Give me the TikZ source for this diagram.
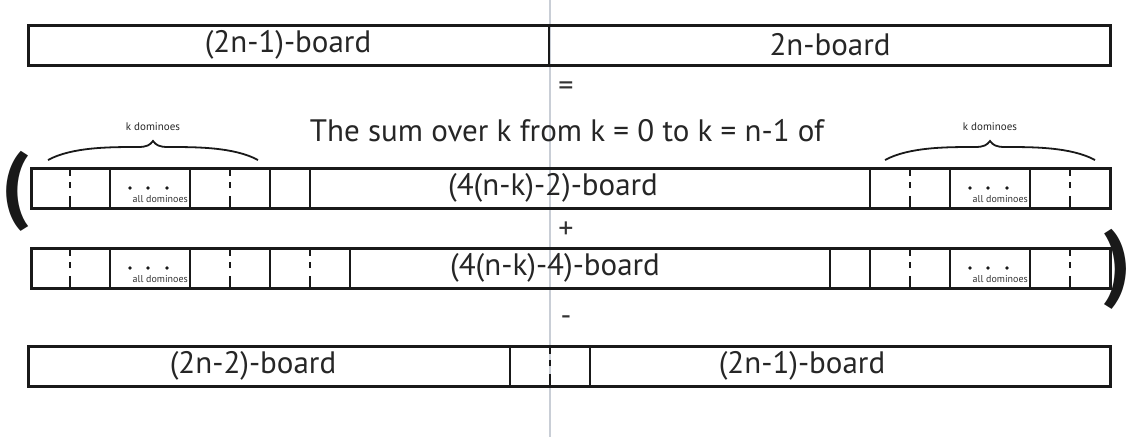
\documentclass[tikz,border=0pt]{standalone}
\usepackage{fontspec}
\setmainfont{PT Sans}
\definecolor{guidegray}{HTML}{C9CED6}
\tikzset{
  boardbox/.style={draw=black!90, line width=2.6pt, inner sep=0pt, anchor=north west},
  cellline/.style={draw=black!90, line width=2.6pt},
  dashmark/.style={draw=black!90, line width=2.6pt, dash pattern=on 9pt off 6pt on 6pt off 8pt on 12pt},
  boardlabel/.style={font=\fontsize{31}{36}\selectfont, text=black!85, inner sep=0pt},
  sumlabel/.style={font=\fontsize{31}{36}\selectfont, text=black!85, inner sep=0pt},
  oplabel/.style={font=\fontsize{30}{34}\selectfont, text=black!80, inner sep=0pt},
  smalllabel/.style={font=\fontsize{11}{13}\selectfont, text=black!85, inner sep=0pt},
  tinylabel/.style={font=\fontsize{10}{12}\selectfont, text=black!80, inner sep=0pt, anchor=base east},
  bracestroke/.style={draw=black!90, line width=1.8pt},
  paren/.style={font=\bfseries\fontsize{86}{96}\selectfont, text=black!90, inner sep=0pt},
  guide/.style={draw=guidegray, line width=2.2pt}
}
\newcommand{\mydash}[2]{\draw[dashmark] (#1,#2) -- (#1,#2+41);}
\newcommand{\mydots}[3]{%
  \fill[black!90] (#1+20,#2+21) circle (1.8);
  \fill[black!90] (#1+38,#2+21) circle (1.8);
  \fill[black!90] (#1+57,#2+21) circle (1.8);
  \node[tinylabel] (#3) at (#1+78,#2+35) {all dominoes};}
\begin{document}
\begin{tikzpicture}[x=1pt,y=-1pt]
\useasboundingbox (0,0) rectangle (1130,442);
\fill[white] (0,0) rectangle (1130,442);
% guide line
\coordinate (gtop) at (550,0);
\coordinate (gbot) at (550,437);
\draw[guide] (gtop) -- (gbot);

% top board
\node[boardbox, minimum width=1082pt, minimum height=40pt] (top) at (27,24) {};
\draw[cellline] (549,24) -- (549,64);
\node[boardlabel] (tl) at (288,45) {(2n-1)-board};
\node[boardlabel] (tr) at (830,45) {2n-board};
\node[oplabel] (eq) at (566,89) {=};

% sum text
\node[sumlabel, anchor=base] (sum) at (567,141) {The sum over k from k = 0 to k = n-1 of};

% braces
\draw[bracestroke] (48,160) .. controls (72,147) and (110,147) .. (138,147)
  .. controls (147,147) and (150,145) .. (153,141)
  .. controls (156,145) and (159,147) .. (168,147)
  .. controls (196,147) and (234,147) .. (258,160);
\node[smalllabel] (kd1) at (153,127) {k dominoes};
\draw[bracestroke] (885,160) .. controls (909,147) and (947,147) .. (975,147)
  .. controls (984,147) and (987,145) .. (990,141)
  .. controls (993,145) and (996,147) .. (1005,147)
  .. controls (1033,147) and (1071,147) .. (1095,160);
\node[smalllabel] (kd2) at (990,127) {k dominoes};

% parentheses
\node[paren] (lp) at (16,191) {(};
\node[paren] (rp) at (1118,269) {)};

% row 1
\node[boardbox, minimum width=1079pt, minimum height=40pt] (r1) at (30,167) {};
\foreach \x in {110,190,270,310,870,950,1030} \draw[cellline] (\x,167) -- (\x,207);
\mydash{70}{167}\mydash{230}{167}\mydash{910}{167}\mydash{1070}{167}
\mydots{110}{167}{ad1}
\mydots{950}{167}{ad2}
\node[boardlabel] (r1l) at (553,188) {(4(n-k)-2)-board};
\node[oplabel] (plus) at (566,230) {+};

% row 2
\node[boardbox, minimum width=1079pt, minimum height=40pt] (r2) at (30,247) {};
\foreach \x in {110,190,270,350,830,870,950,1030} \draw[cellline] (\x,247) -- (\x,287);
\mydash{70}{247}\mydash{230}{247}\mydash{310}{247}\mydash{910}{247}\mydash{1070}{247}
\mydots{110}{247}{ad3}
\mydots{950}{247}{ad4}
\node[boardlabel] (r2l) at (555,268) {(4(n-k)-4)-board};
\node[oplabel] (minus) at (566,321) {-};

% row 3
\node[boardbox, minimum width=1082pt, minimum height=40pt] (r3) at (27,345) {};
\draw[cellline] (510,345) -- (510,385);
\draw[cellline] (590,345) -- (590,385);
\mydash{550}{345}
\node[boardlabel] (r3l) at (253,366) {(2n-2)-board};
\node[boardlabel] (r3r) at (802,366) {(2n-1)-board};
\end{tikzpicture}
\end{document}
